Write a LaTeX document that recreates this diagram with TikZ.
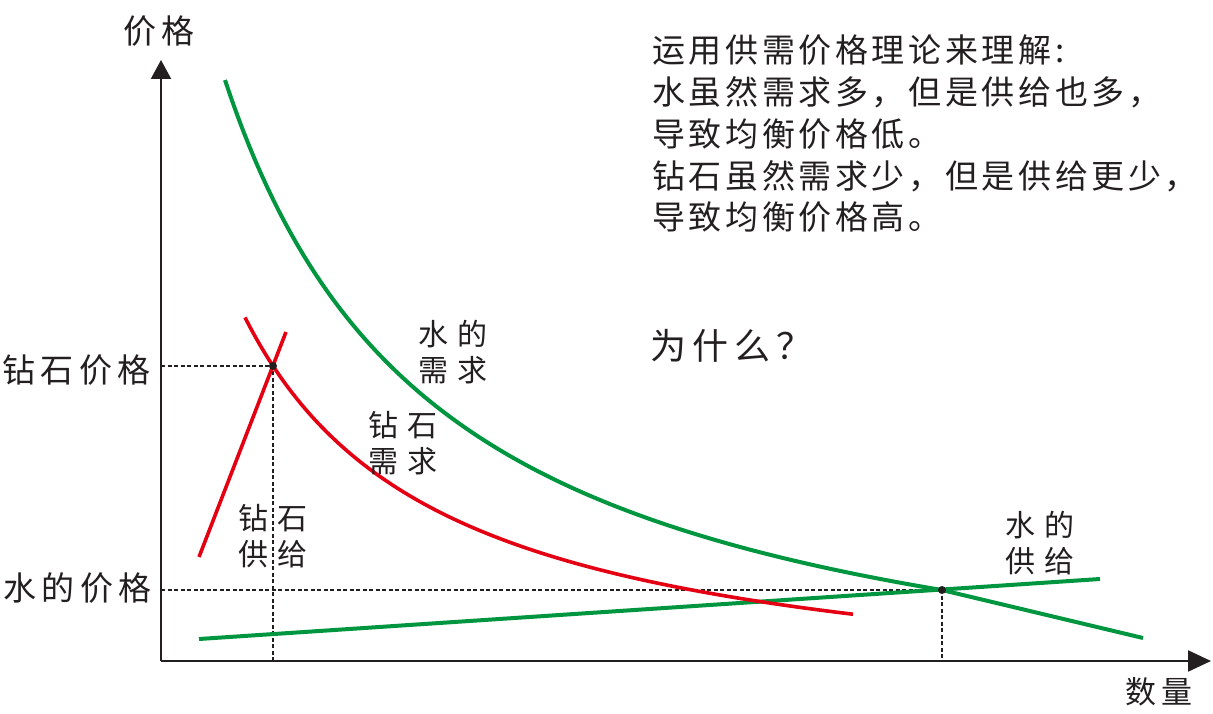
\documentclass[tikz,border=0pt]{standalone}
\usepackage{fontspec}
\usetikzlibrary{arrows.meta}
\newfontfamily\cjkP[LetterSpace=11]{Noto Sans CJK SC}
\newfontfamily\cjkA[LetterSpace=17]{Noto Sans CJK SC}
\newfontfamily\cjkL[LetterSpace=30]{Noto Sans CJK SC}
\definecolor{cgreen}{RGB}{0,150,64}
\definecolor{cred}{RGB}{228,0,18}
\definecolor{ink}{RGB}{35,31,32}
\begin{document}
\begin{tikzpicture}[x=1pt,y=-1pt,
  axis/.style={draw=ink, line width=2.2pt},
  guide/.style={draw=ink, line width=1.5pt, dash pattern=on 4pt off 2.5pt},
  wcurve/.style={draw=cgreen, line width=4pt},
  dcurve/.style={draw=cred, line width=3.6pt},
  lbl/.style={inner sep=0pt, text=ink, anchor=base west, align=left},
  axlbl/.style={lbl, font={\cjkA\fontsize{33}{40}\selectfont}},
  crvlbl/.style={lbl, font={\cjkL\fontsize{30}{36}\selectfont}},
  eqdot/.style={circle, fill=ink, inner sep=0pt, minimum size=8pt}]
\useasboundingbox (0,0) rectangle (1213,714);
\fill[white] (0,0) rectangle (1213,714);

% axes
\coordinate (O) at (161,661);
\coordinate (Ytop) at (161,60);
\coordinate (Xend) at (1211,661);
\draw[axis, -{Triangle[length=19pt,width=20pt]}] (O) -- (Ytop);
\draw[axis, -{Triangle[length=23pt,width=21pt]}] (O) -- (Xend);

% equilibrium points
\coordinate (Ed) at (273,366);
\coordinate (Ew) at (942,590);
\coordinate (EdY) at (161,366);
\coordinate (EdX) at (273,661);
\coordinate (EwY) at (161,590);
\coordinate (EwX) at (942,661);

% guide lines
\draw[guide] (EdY) -- (Ed) -- (EdX);
\draw[guide] (EwY) -- (Ew) -- (EwX);

% water demand
\coordinate (WDend) at (1143,638);
\draw[wcurve] plot[domain=225:942, samples=120] (\x, {746.8 - 1469.54/((\x-4.6)/100)}) -- (WDend);
% water supply
\coordinate (WSa) at (199,639);
\coordinate (WSb) at (1100,579);
\draw[wcurve] (WSa) -- (WSb);

% diamond supply
\coordinate (DSa) at (199,557);
\coordinate (DSb) at (286,332);
\draw[dcurve] (DSa) -- (DSb);
% diamond demand
\draw[dcurve] plot[domain=245:853, samples=120] (\x, {711.5 - 785.35/((\x-45.7)/100)});

\node[eqdot] (dotD) at (Ed) {};
\node[eqdot] (dotW) at (Ew) {};

% axis labels
\node[axlbl] (ylab) at (123,44) {价格};
\node[axlbl, font={\cjkA\fontsize{31}{40}\selectfont}] (xlab) at (1125,703) {数量};
\node[axlbl] (pd) at (2,382) {钻石价格};
\node[axlbl] (pw) at (3,600) {水的价格};

% curve labels (anchor = baseline of last line)
\node[crvlbl] (lwd) at (418,381) {水的\\需求};
\node[crvlbl] (ldd) at (368,472) {钻石\\需求};
\node[crvlbl] (lds) at (238,565) {钻石\\供给};
\node[crvlbl] (lws) at (1005,572) {水的\\供给};

% text
\node[lbl, font={\cjkP\fontsize{33}{42}\selectfont}] (txt) at (652,230) {运用供需价格理论来理解:\\水虽然需求多，但是供给也多，\\导致均衡价格低。\\钻石虽然需求少，但是供给更少，\\导致均衡价格高。};
\node[lbl, font={\cjkA\fontsize{36}{40}\selectfont}] (why) at (650,359) {为什么？};
\end{tikzpicture}
\end{document}
